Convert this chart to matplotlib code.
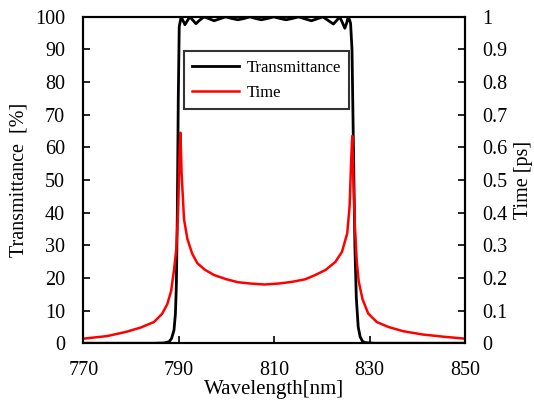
import numpy as np
import matplotlib.pyplot as plt
from matplotlib.ticker import FuncFormatter

# transmittance curve (wavelength in nm, transmittance in %)
wl_t = [770, 785, 787, 788, 788.5, 789, 789.3, 789.5, 789.7, 789.9, 790.1, 790.5,
        790.9, 791.3, 791.8, 792.3, 793.0, 793.6, 794.4, 795.3, 796.4, 797.4, 798.6,
        799.8, 801.1, 802.4, 803.7, 804.9, 806.1, 807.3, 808.6, 809.9, 811.2, 812.5,
        813.8, 815.1, 816.4, 817.8, 819.0, 820.2, 821.3, 822.4, 823.1, 823.7, 824.3,
        824.8, 825.2, 825.5, 825.8, 826.0, 826.3, 826.6, 826.9, 827.2, 827.6, 828.0,
        828.5, 829, 831, 850]
trans = [0, 0, 0.1, 0.5, 1.5, 4, 9, 18, 40, 75, 97, 100,
         98.8, 97.6, 98.8, 100, 98.9, 97.9, 99.0, 100, 99.4, 98.8, 99.4,
         100, 99.5, 99.1, 99.5, 100, 99.5, 99.1, 99.5, 100, 99.5, 99.1,
         99.5, 100, 99.4, 98.8, 99.4, 100, 98.9, 97.8, 98.9, 100, 98.2,
         96.5, 98.2, 100, 99.0, 98, 90, 60, 30, 14, 5, 2,
         0.6, 0.2, 0, 0]

# group delay curve (wavelength in nm, time in ps)
wl_d = [770, 775, 779, 782, 784.8, 786.5, 787.6, 788.4, 789, 789.5, 789.9, 790.2,
        790.35, 790.6, 791.1, 791.8, 792.8, 793.9, 795.5, 797.4, 800, 802.4, 805,
        808, 811, 813.7, 816.5, 818.6, 820.8, 822.8, 824.2, 825.3, 825.8, 826.1,
        826.35, 826.6, 826.9, 827.3, 827.7, 828.5, 829.7, 831.5, 833.9, 837, 841,
        845.5, 850]
delay = [0.014, 0.022, 0.035, 0.048, 0.065, 0.09, 0.12, 0.16, 0.224, 0.29, 0.42, 0.60,
         0.645, 0.52, 0.38, 0.32, 0.275, 0.245, 0.225, 0.209, 0.196, 0.187, 0.183,
         0.180, 0.183, 0.188, 0.196, 0.209, 0.225, 0.249, 0.28, 0.337, 0.42, 0.55,
         0.635, 0.50, 0.36, 0.25, 0.19, 0.135, 0.091, 0.065, 0.05, 0.037, 0.027,
         0.02, 0.014]

plt.rcParams['font.family'] = ['Liberation Serif', 'DejaVu Serif']
plt.rcParams['font.size'] = 14.5

fig = plt.figure(figsize=(5.34, 4.01), dpi=100)
ax = fig.add_axes([0.156, 0.144, 0.715, 0.814])
ax2 = ax.twinx()

l1, = ax.plot(wl_t, trans, color='black', lw=2, label='Transmittance')
l2, = ax2.plot(wl_d, delay, color='#ff0000', lw=1.8, label='Time')

ax.set_xlim(770, 850)
ax.set_ylim(0, 100)
ax2.set_ylim(0, 1)
ax.set_xticks([770, 790, 810, 830, 850])
ax.set_yticks(np.arange(0, 101, 10))
ax2.set_yticks(np.arange(0, 1.01, 0.1))
ax2.yaxis.set_major_formatter(FuncFormatter(lambda v, p: f"{v:g}"))

ax.tick_params(axis='x', direction='in', length=5, width=1.2, pad=13)
ax.tick_params(axis='y', direction='in', length=5, width=1.2, pad=13)
ax2.tick_params(axis='y', direction='in', length=5, width=1.2, pad=12)
for a in (ax, ax2):
    for s in a.spines.values():
        s.set_linewidth(1.5)
        s.set_color('black')

ax.set_xlabel('Wavelength[nm]', labelpad=0, fontsize=15)
ax.set_ylabel('Transmittance  [%]', labelpad=5)
ax2.set_ylabel('Time [ps]', labelpad=5)

leg = ax.legend([l1, l2], ['Transmittance', 'Time'], loc='upper left',
                bbox_to_anchor=(0.264, 0.894), fontsize=12, frameon=True,
                fancybox=False, edgecolor='black', handlelength=2.8,
                borderpad=0.5, labelspacing=0.55, handletextpad=0.45,
                borderaxespad=0)
leg.get_frame().set_linewidth(1.5)
leg.set_zorder(5)

plt.savefig('out.png', dpi=100)
